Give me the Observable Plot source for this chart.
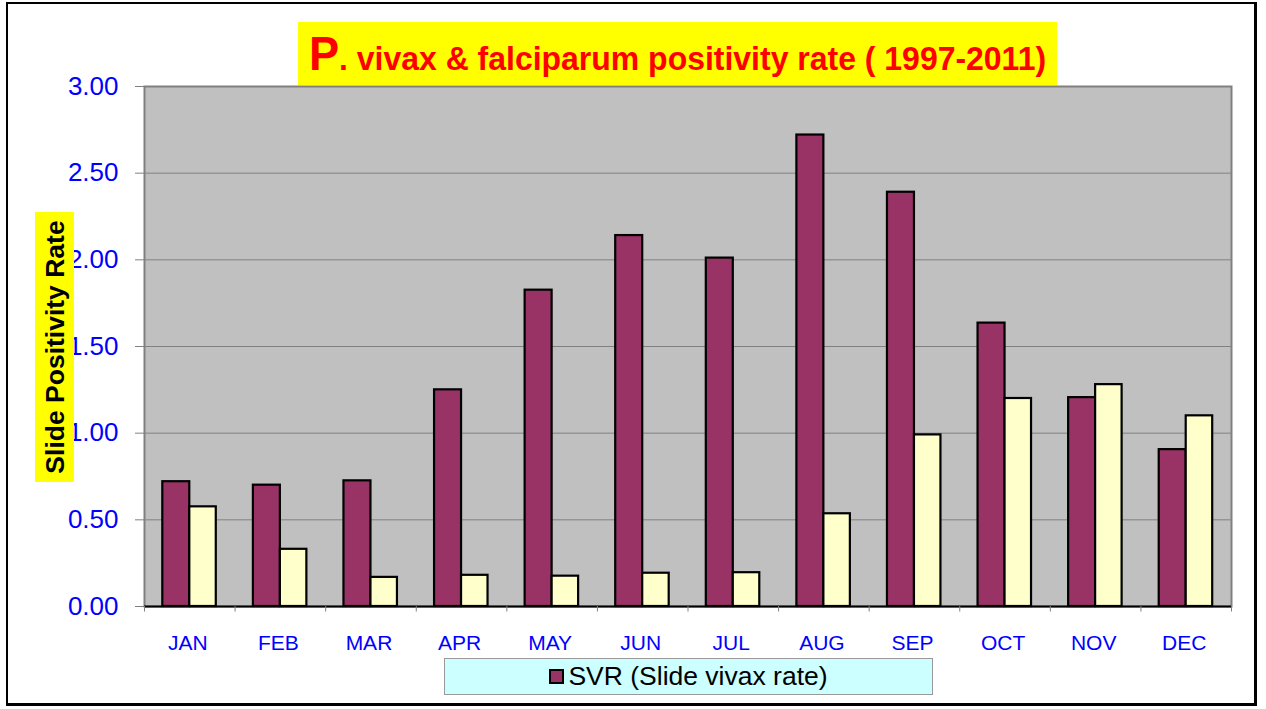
<!DOCTYPE html>
<html>
<head>
<meta charset="utf-8">
<script src="https://cdn.jsdelivr.net/npm/d3@7"></script>
<script src="https://cdn.jsdelivr.net/npm/@observablehq/plot@0.6"></script>
<style>
  html, body { margin: 0; padding: 0; background: #ffffff; }
  #wrap { position: relative; width: 1266px; height: 709px; overflow: hidden; font-family: "Liberation Sans", Arial, sans-serif; }
  #frame { position: absolute; left: 6px; top: 2px; width: 1246px; height: 699px; border-style: solid; border-color: #000; border-width: 2px 3px 3px 2px; pointer-events: none; }
  #title { position: absolute; left: 298px; top: 22px; width: 759px; height: 63px; background: #ffff00; }
  #title .t { position: absolute; left: -60px; right: -60px; top: 4px; text-align: center; color: #ff0000; font-weight: bold; white-space: nowrap; transform: scaleX(0.94); transform-origin: 50% 50%; }
  #title .big { font-size: 48px; }
  #title .rest { font-size: 34px; }
  #ylab { position: absolute; left: 35px; top: 212px; width: 39px; height: 270px; background: #ffff00; }
  #ylab span { position: absolute; left: 50%; top: 50%; transform: translate(-50%, -50%) rotate(-90deg); font-size: 26.5px; font-weight: bold; color: #000; white-space: nowrap; }
  #legend { position: absolute; left: 444px; top: 658px; width: 487px; height: 35px; background: #ccffff; border: 1px solid #999; display: flex; align-items: center; justify-content: center; font-size: 26.5px; color: #000; }
  #legend .sw { display: inline-block; width: 11px; height: 11px; background: #993366; border: 2px solid #000; margin-right: 4px; }
  svg { position: absolute; left: 0; top: 0; }
</style>
</head>
<body>
<div id="wrap"></div>
<script>
const months = ["JAN","FEB","MAR","APR","MAY","JUN","JUL","AUG","SEP","OCT","NOV","DEC"];
const svr = [0.72, 0.70, 0.725, 1.25, 1.825, 2.14, 2.01, 2.72, 2.39, 1.635, 1.205, 0.905];
const sfr = [0.575, 0.33, 0.168, 0.18, 0.175, 0.192, 0.195, 0.535, 0.99, 1.20, 1.28, 1.10];
const yTicks = [0, 0.5, 1.0, 1.5, 2.0, 2.5, 3.0];
const titleBig = "P";
const titleRest = ". vivax & falciparum positivity rate ( 1997-2011)";
const yLabel = "Slide Positivity Rate";
const legendLabel = "SVR (Slide vivax rate)";

const svrData = months.map((m, i) => ({month: m, value: svr[i]}));
const sfrData = months.map((m, i) => ({month: m, value: sfr[i]}));

const bw = (1266 - 144 - 35) / months.length;

const chart = Plot.plot({
  width: 1266,
  height: 709,
  marginLeft: 144,
  marginRight: 35,
  marginTop: 86,
  marginBottom: 103,
  style: {background: "transparent", fontFamily: "Liberation Sans, Arial, sans-serif"},
  x: {domain: months, padding: 0, round: false, label: null},
  y: {domain: [0, 3], label: null},
  marks: [
    Plot.frame({fill: "#c0c0c0", stroke: "#808080", strokeWidth: 2}),
    Plot.gridY({ticks: yTicks.filter(d => d > 0 && d < 3), stroke: "#808080", strokeOpacity: 1, strokeWidth: 1}),
    Plot.barY(svrData, {x: "month", y: "value", fill: "#993366", stroke: "#000", strokeWidth: 2.2, insetLeft: 18.3, insetRight: bw / 2}),
    Plot.barY(sfrData, {x: "month", y: "value", fill: "#ffffcc", stroke: "#000", strokeWidth: 2.2, insetLeft: bw / 2, insetRight: 18.8}),
    Plot.ruleY([0], {stroke: "#000", strokeWidth: 2}),
    Plot.ruleX(months, {x: d => d, y1: 0, y2: -0.032, dx: -bw / 2, stroke: "#808080"}),
    Plot.ruleX(months.slice(-1), {x: d => d, y1: 0, y2: -0.032, dx: bw / 2, stroke: "#808080"}),
    Plot.axisY({ticks: yTicks, tickFormat: d3.format(".2f"), tickSize: 9, tickPadding: 17, fontSize: 26, fill: "#0000ff", stroke: "#808080", label: null}),
    Plot.axisX({tickSize: 0, tickPadding: 29, fontSize: 21, fill: "#0000ff", dx: -2, label: null})
  ]
});

const wrap = document.getElementById("wrap");
wrap.appendChild(chart);

const title = document.createElement("div");
title.id = "title";
title.innerHTML = `<div class="t"><span class="big"></span><span class="rest"></span></div>`;
title.querySelector(".big").textContent = titleBig;
title.querySelector(".rest").textContent = titleRest;
wrap.appendChild(title);

const ylab = document.createElement("div");
ylab.id = "ylab";
const ys = document.createElement("span");
ys.textContent = yLabel;
ylab.appendChild(ys);
wrap.appendChild(ylab);

const legend = document.createElement("div");
legend.id = "legend";
legend.innerHTML = `<span class="sw"></span><span class="lt"></span>`;
legend.querySelector(".lt").textContent = legendLabel;
wrap.appendChild(legend);

const frame = document.createElement("div");
frame.id = "frame";
wrap.appendChild(frame);
</script>
</body>
</html>
